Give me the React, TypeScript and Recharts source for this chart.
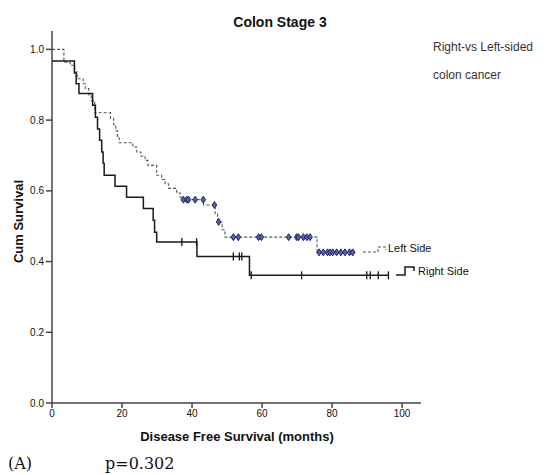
import React from "react";
import { ComposedChart, Line, Scatter, XAxis, YAxis } from "recharts";

// Kaplan-Meier steps: event time (months) and cum survival after the drop
const rightTimes = [0, 6.4, 6.9, 7.7, 11.6, 12.4, 13.0, 13.6, 14.2, 14.6, 14.9, 18.0, 21.3, 26.1, 28.9, 29.3, 29.9, 41.4, 56.4];
const rightSurv = [0.967, 0.933, 0.903, 0.875, 0.842, 0.808, 0.775, 0.743, 0.71, 0.678, 0.644, 0.613, 0.582, 0.55, 0.517, 0.483, 0.455, 0.414, 0.361];
const rightLastFollowUp = 96.1;
const rightCensored = [37.1, 41.3, 51.8, 53.5, 54.2, 56.9, 71.3, 89.9, 90.9, 93.2, 96.1];

const leftTimes = [0, 3.4, 5.2, 6.5, 7.2, 8.9, 9.5, 10.5, 11.2, 12.2, 16.7, 17.6, 18.2, 18.7, 19.2, 23.1, 24.2, 25.4, 26.6, 27.4, 29.9, 31.3, 32.3, 33.3, 35.6, 36.6, 37.2, 43.3, 46.6, 47.3, 48.6, 49.4, 75.7];
const leftSurv = [1.0, 0.964, 0.955, 0.936, 0.917, 0.903, 0.889, 0.872, 0.855, 0.821, 0.805, 0.787, 0.77, 0.752, 0.736, 0.724, 0.71, 0.698, 0.686, 0.672, 0.644, 0.632, 0.62, 0.607, 0.594, 0.582, 0.575, 0.56, 0.535, 0.512, 0.49, 0.469, 0.426];
const leftLastFollowUp = 86.0;
const leftCensored = [37.5, 38.5, 39.0, 40.9, 43.2, 46.4, 47.6, 51.8, 53.2, 59.0, 59.8, 67.6, 69.9, 70.4, 71.8, 72.8, 73.7, 76.3, 77.5, 78.7, 79.4, 80.2, 81.3, 82.5, 83.7, 85.0, 85.9];

const xTicks = [0, 20, 40, 60, 80, 100];
const yTicks = [0, 0.2, 0.4, 0.6, 0.8, 1.0];

const FONT = "Arial, 'Liberation Sans', sans-serif";

function stepData(times: number[], surv: number[], end: number) {
  const pts = times.map((t, i) => ({ t, s: surv[i] }));
  pts.push({ t: end, s: surv[surv.length - 1] });
  return pts;
}

// survival level of the curve at time t (last step at or before t)
function censorData(times: number[], surv: number[], censored: number[]) {
  return censored.map((t) => {
    let s = surv[0];
    times.forEach((et, i) => {
      if (et <= t) s = surv[i];
    });
    return { t, s };
  });
}

const rightLine = stepData(rightTimes, rightSurv, rightLastFollowUp);
const leftLine = stepData(leftTimes, leftSurv, leftLastFollowUp);
const rightMarks = censorData(rightTimes, rightSurv, rightCensored);
const leftMarks = censorData(leftTimes, leftSurv, leftCensored);

const TickMark = (props: any) => {
  const { cx, cy } = props;
  return <line x1={cx} x2={cx} y1={cy - 4} y2={cy + 4} stroke="#111" strokeWidth={1.3} />;
};

const Diamond = (props: any) => {
  const { cx, cy } = props;
  return (
    <path
      d={`M${cx},${cy - 3.5}L${cx + 2.3},${cy}L${cx},${cy + 3.5}L${cx - 2.3},${cy}Z`}
      fill="#5a60a8"
      stroke="#1f2670"
      strokeWidth={1}
    />
  );
};

const text = (extra: React.CSSProperties): React.CSSProperties => ({
  position: "absolute",
  fontFamily: FONT,
  lineHeight: 1,
  whiteSpace: "nowrap",
  color: "#111",
  ...extra,
});

export default function App() {
  return (
    <div style={{ position: "absolute", left: 0, top: 0, width: 548, height: 475, background: "#fff" }}>
      <ComposedChart width={548} height={475} margin={{ top: 31, right: 127, bottom: 42, left: 0 }}>
        <XAxis
          dataKey="t"
          type="number"
          domain={[0, 105.4]}
          allowDataOverflow
          ticks={xTicks}
          tickSize={5}
          height={30}
          stroke="#444"
          strokeWidth={1.5}
          tick={{ fill: "#111", fontSize: 10, fontFamily: FONT }}
        />
        <XAxis xAxisId="top" orientation="top" type="number" domain={[0, 105.4]} height={0} tick={false} tickLine={false} stroke="#444" strokeWidth={1.5} />
        <YAxis
          type="number"
          domain={[0, 1.052]}
          allowDataOverflow
          ticks={yTicks}
          tickFormatter={(v: number) => v.toFixed(1)}
          tickSize={6}
          width={52}
          stroke="#444"
          strokeWidth={1.5}
          tick={{ fill: "#111", fontSize: 10, fontFamily: FONT }}
        />
        <YAxis yAxisId="right" orientation="right" type="number" domain={[0, 1.052]} width={0} tick={false} tickLine={false} stroke="#444" strokeWidth={1.5} />
        <Line data={leftLine} dataKey="s" type="stepAfter" stroke="#555" strokeWidth={1.1} strokeDasharray="3 2" dot={false} activeDot={false} isAnimationActive={false} />
        <Line data={rightLine} dataKey="s" type="stepAfter" stroke="#1a1a1a" strokeWidth={1.5} dot={false} activeDot={false} isAnimationActive={false} />
        <Scatter data={leftMarks} dataKey="s" shape={Diamond} isAnimationActive={false} />
        <Scatter data={rightMarks} dataKey="s" shape={TickMark} isAnimationActive={false} />
      </ComposedChart>

      <svg width={548} height={475} style={{ position: "absolute", left: 0, top: 0, pointerEvents: "none" }}>
        <polyline points="363,252 378,252 378,247 386,247 386,250" fill="none" stroke="#555" strokeWidth={1.1} strokeDasharray="3 2" />
        <polyline points="396,275 405,275 405,267 414,267 414,271" fill="none" stroke="#1a1a1a" strokeWidth={1.5} />
      </svg>

      <div style={text({ left: 280, top: 15, fontSize: 14, fontWeight: "bold", transform: "translateX(-50%)" })}>Colon Stage 3</div>
      <div style={text({ left: 433, top: 41, fontSize: 12, color: "#333" })}>Right-vs Left-sided</div>
      <div style={text({ left: 433, top: 69, fontSize: 12, color: "#333" })}>colon cancer</div>
      <div style={text({ left: 388, top: 243, fontSize: 11 })}>Left Side</div>
      <div style={text({ left: 418, top: 266, fontSize: 11 })}>Right Side</div>
      <div style={text({ left: 87, top: 430, width: 300, textAlign: "center", fontSize: 13, fontWeight: "bold" })}>
        Disease Free Survival (months)
      </div>
      <div style={text({ left: -42, top: 215, width: 120, textAlign: "center", fontSize: 13, fontWeight: "bold", transform: "rotate(-90deg)" })}>
        Cum Survival
      </div>
      <div style={text({ left: 8, top: 456, fontSize: 16, fontFamily: "'DejaVu Serif', serif" })}>(A)</div>
      <div style={text({ left: 105, top: 456, fontSize: 16, fontFamily: "'DejaVu Serif', serif" })}>p=0.302</div>
    </div>
  );
}
